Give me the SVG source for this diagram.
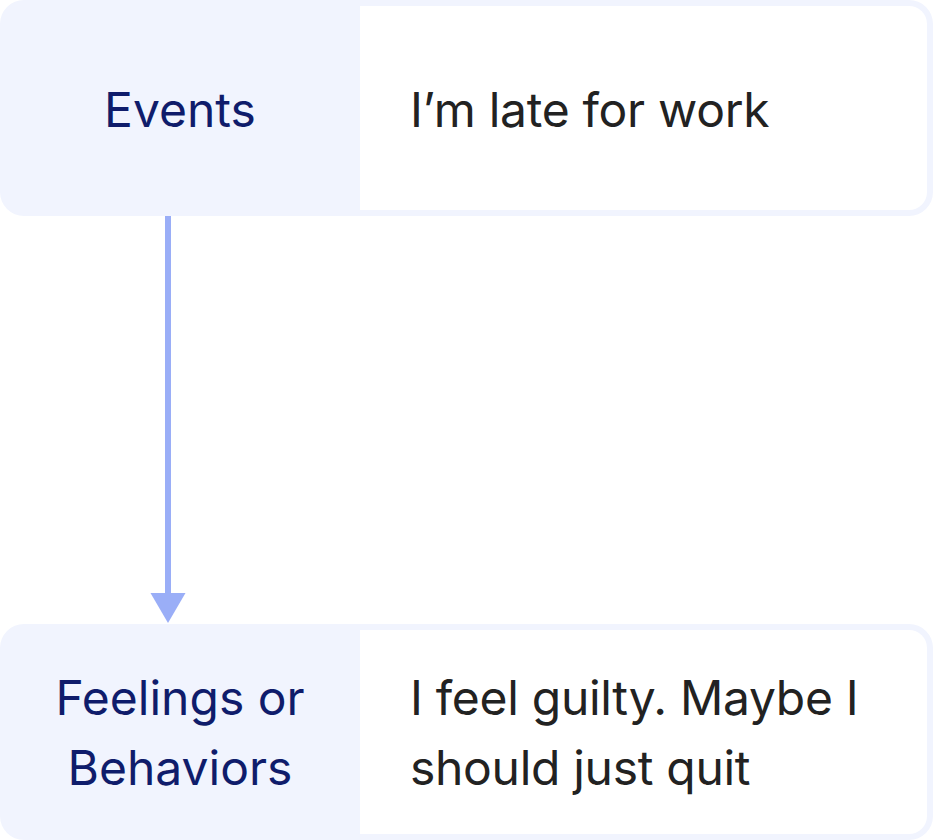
<svg xmlns="http://www.w3.org/2000/svg" width="933" height="840" viewBox="0 0 933 840">
<style>
.outer{fill:#F1F4FE}
.inner{fill:#FFFFFF}
.lbl{font-family:Inter,"Liberation Sans",sans-serif;font-size:48px;fill:#0F1C6B;text-anchor:middle}
.txt{font-family:Inter,"Liberation Sans",sans-serif;font-size:48px;fill:#222222;letter-spacing:-0.3px}
.conn{stroke:#9AAEF7;stroke-width:6;fill:none}
.head{fill:#9AAEF7}
</style>
<g id="connectors">
<line class="conn" x1="168" y1="216" x2="168" y2="594"/>
<path class="head" d="M150.5 593 L185.5 593 L168 623 Z"/>
</g>
<g id="node-events">
<rect class="outer" x="0" y="0" width="933" height="216" rx="24"/>
<path class="inner" d="M360 6 H909 A18 18 0 0 1 927 24 V192 A18 18 0 0 1 909 210 H360 Z"/>
<text class="lbl" x="180" y="127">Events</text>
<text class="txt" x="410" y="127">I’m late for work</text>
</g>
<g id="node-feelings">
<rect class="outer" x="0" y="624" width="933" height="216" rx="24"/>
<path class="inner" d="M360 630 H909 A18 18 0 0 1 927 648 V816 A18 18 0 0 1 909 834 H360 Z"/>
<text class="lbl" x="180" y="715">Feelings or</text>
<text class="lbl" x="180" y="785">Behaviors</text>
<text class="txt" x="410" y="715">I feel guilty. Maybe I</text>
<text class="txt" x="410" y="785">should just quit</text>
</g>
</svg>
